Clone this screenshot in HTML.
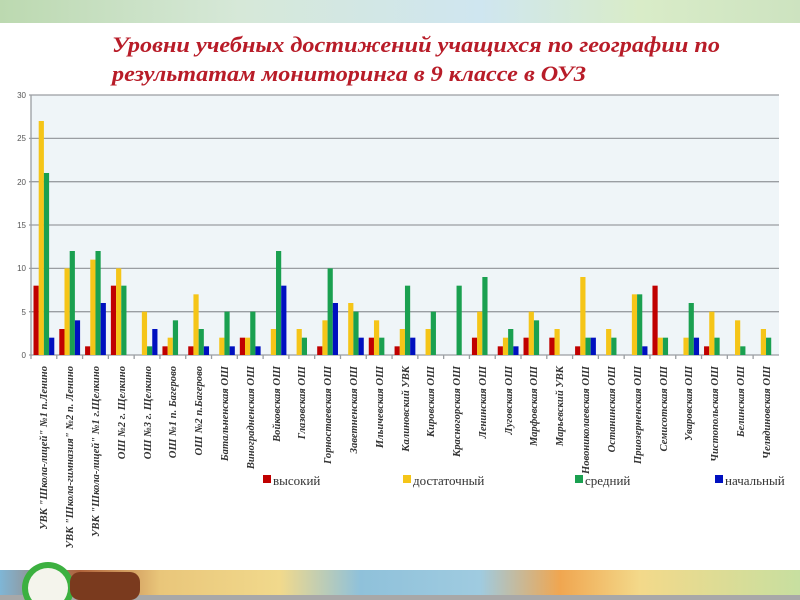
<!DOCTYPE html>
<html><head><meta charset="utf-8"><style>
html,body{margin:0;padding:0;background:#fff;}
svg{display:block;}
</style></head><body>
<svg id="s" width="800" height="600" viewBox="0 0 800 600" xmlns="http://www.w3.org/2000/svg" font-family="Liberation Serif, serif">
<defs>
<linearGradient id="mt" x1="0" x2="1" y1="0" y2="0">
<stop offset="0" stop-color="#bcd9b0"/><stop offset="0.3" stop-color="#d6e8d8"/><stop offset="0.6" stop-color="#cfe6f0"/><stop offset="0.8" stop-color="#d9ecc8"/><stop offset="1" stop-color="#cde3c0"/></linearGradient>
<linearGradient id="mb" x1="0" x2="1" y1="0" y2="0">
<stop offset="0" stop-color="#7fb6d6"/><stop offset="0.1" stop-color="#b0623a"/><stop offset="0.2" stop-color="#e9c67a"/><stop offset="0.35" stop-color="#f1d98c"/><stop offset="0.45" stop-color="#8fc1da"/><stop offset="0.6" stop-color="#9fcbe0"/><stop offset="0.7" stop-color="#f0a650"/><stop offset="0.8" stop-color="#f3d98a"/><stop offset="1" stop-color="#c7dfa0"/></linearGradient>
</defs>
<rect x="0" y="0" width="800" height="600" fill="#fff"/>
<rect x="0" y="0" width="800" height="23" fill="url(#mt)"/>
<rect x="0" y="570" width="800" height="30" fill="url(#mb)"/>
<rect x="0" y="595" width="800" height="5" fill="#a8a8a8"/>
<circle cx="48" cy="588" r="26" fill="#3cb040"/><circle cx="48" cy="588" r="20" fill="#f4f4ec"/>
<rect x="70" y="572" width="70" height="28" rx="10" fill="#7a3a1e"/>
<text x="112" y="52" font-size="22" font-style="italic" font-weight="bold" fill="#b81c28" textLength="608" lengthAdjust="spacingAndGlyphs">Уровни учебных достижений учащихся по географии по</text>
<text x="112" y="81" font-size="22" font-style="italic" font-weight="bold" fill="#b81c28" textLength="474" lengthAdjust="spacingAndGlyphs">результатам мониторинга в 9 классе в ОУЗ</text>
<rect x="31" y="95" width="748" height="260" fill="#eff5f8"/>
<g id="grid" stroke="#9a9ea2" stroke-width="1.3"></g>
<g id="bars"></g>
<g font-size="8" fill="#555" text-anchor="end" font-family="Liberation Sans, sans-serif">
<text x="26" y="358">0</text><text x="26" y="315">5</text><text x="26" y="271">10</text><text x="26" y="228">15</text><text x="26" y="185">20</text><text x="26" y="141">25</text><text x="26" y="98">30</text>
</g>
<g id="lab" font-size="10.6" font-style="italic" font-weight="bold" fill="#333" text-anchor="end">
<text transform="translate(47,366) rotate(-90)">УВК "Школа-лицей" №1 п.Ленино</text>
<text transform="translate(73,366) rotate(-90)">УВК "Школа-гимназия" №2 п. Ленино</text>
<text transform="translate(99,366) rotate(-90)">УВК "Школа-лицей" №1 г.Щелкино</text>
<text transform="translate(125,366) rotate(-90)">ОШ №2 г. Щелкино</text>
<text transform="translate(151,366) rotate(-90)">ОШ №3 г. Щелкино</text>
<text transform="translate(176,366) rotate(-90)">ОШ №1 п. Багерово</text>
<text transform="translate(202,366) rotate(-90)">ОШ №2 п.Багерово</text>
<text transform="translate(228,366) rotate(-90)">Батальненская ОШ</text>
<text transform="translate(254,366) rotate(-90)">Виноградненская ОШ</text>
<text transform="translate(280,366) rotate(-90)">Войковская ОШ</text>
<text transform="translate(305,366) rotate(-90)">Глазовская ОШ</text>
<text transform="translate(331,366) rotate(-90)">Горностаевская ОШ</text>
<text transform="translate(357,366) rotate(-90)">Заветненская ОШ</text>
<text transform="translate(383,366) rotate(-90)">Ильичевская ОШ</text>
<text transform="translate(409,366) rotate(-90)">Калиновский УВК</text>
<text transform="translate(434,366) rotate(-90)">Кировская ОШ</text>
<text transform="translate(460,366) rotate(-90)">Красногорская ОШ</text>
<text transform="translate(486,366) rotate(-90)">Ленинская ОШ</text>
<text transform="translate(512,366) rotate(-90)">Луговская ОШ</text>
<text transform="translate(537,366) rotate(-90)">Марфовская ОШ</text>
<text transform="translate(563,366) rotate(-90)">Марьевский УВК</text>
<text transform="translate(589,366) rotate(-90)">Новониколаевская ОШ</text>
<text transform="translate(615,366) rotate(-90)">Останинская ОШ</text>
<text transform="translate(641,366) rotate(-90)">Приозерненская ОШ</text>
<text transform="translate(667,366) rotate(-90)">Семисотская ОШ</text>
<text transform="translate(692,366) rotate(-90)">Уваровская ОШ</text>
<text transform="translate(718,366) rotate(-90)">Чистопольская ОШ</text>
<text transform="translate(744,366) rotate(-90)">Белинская ОШ</text>
<text transform="translate(770,366) rotate(-90)">Челядиновская ОШ</text>
</g>
<g font-size="13" fill="#333">
<rect x="263" y="475" width="8" height="8" fill="#c00000"/><text x="273" y="485">высокий</text>
<rect x="403" y="475" width="8" height="8" fill="#f5c518"/><text x="413" y="485">достаточный</text>
<rect x="575" y="475" width="8" height="8" fill="#1aa050"/><text x="585" y="485">средний</text>
<rect x="715" y="475" width="8" height="8" fill="#0010c0"/><text x="725" y="485">начальный</text>
</g>
</svg>
<script>
var d=[[8,27,21,2],[3,10,12,4],[1,11,12,6],[8,10,8,0],[0,5,1,3],[1,2,4,0],[1,7,3,1],[0,2,5,1],[2,2,5,1],[0,3,12,8],[0,3,2,0],[1,4,10,6],[0,6,5,2],[2,4,2,0],[1,3,8,2],[0,3,5,0],[0,0,8,0],[2,5,9,0],[1,2,3,1],[2,5,4,0],[2,3,0,0],[1,9,2,2],[0,3,2,0],[0,7,7,1],[8,2,2,0],[0,2,6,2],[1,5,2,0],[0,4,1,0],[0,3,2,0]];
var c=["#c00000","#f5c518","#1aa050","#0010c0"],ns="http://www.w3.org/2000/svg";
var g=document.getElementById("grid"),b=document.getElementById("bars");
for(var k=0;k<=6;k++){var y=355-k*43.33;var l=document.createElementNS(ns,"line");l.setAttribute("x1",29);l.setAttribute("x2",779);l.setAttribute("y1",y);l.setAttribute("y2",y);g.appendChild(l);}
var ax=document.createElementNS(ns,"line");ax.setAttribute("x1",31);ax.setAttribute("x2",31);ax.setAttribute("y1",95);ax.setAttribute("y2",355);g.appendChild(ax);
for(var i=0;i<29;i++){var base=33.5+i*25.79;
var t=document.createElementNS(ns,"line");t.setAttribute("x1",31+i*25.79);t.setAttribute("x2",31+i*25.79);t.setAttribute("y1",355);t.setAttribute("y2",359);g.appendChild(t);
for(var j=0;j<4;j++){var v=d[i][j];if(!v)continue;var h=v*8.667;var r=document.createElementNS(ns,"rect");r.setAttribute("x",base+j*5.2);r.setAttribute("y",355-h);r.setAttribute("width",5.2);r.setAttribute("height",h);r.setAttribute("fill",c[j]);b.appendChild(r);}}
</script>
</body></html>
